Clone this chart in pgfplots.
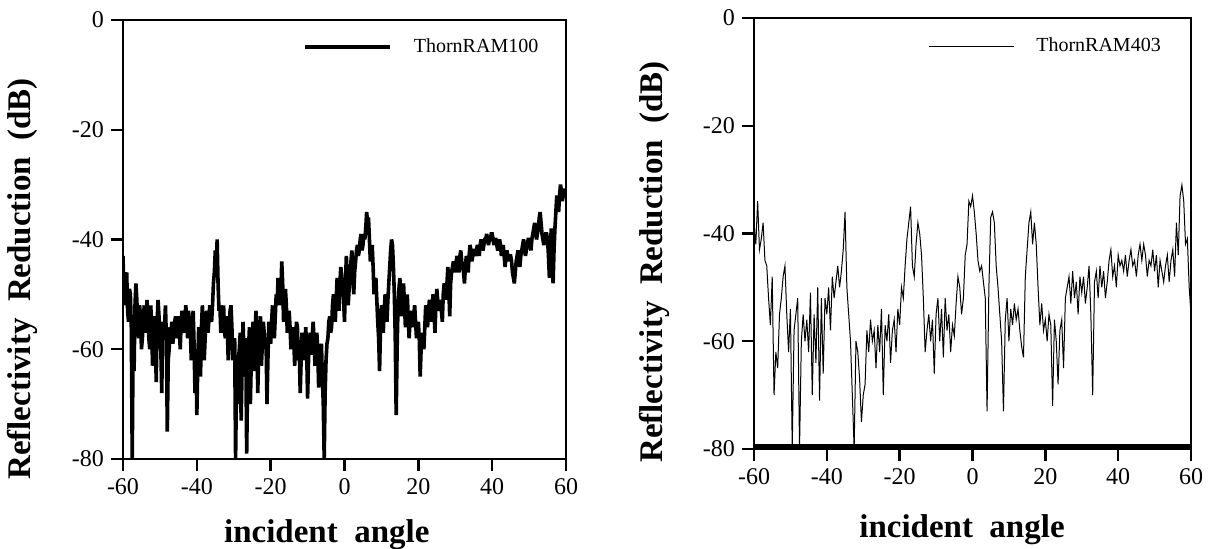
\documentclass[border=0pt]{standalone}
\usepackage{fontspec}
\setmainfont{Liberation Serif}
\usepackage{pgfplots}
\pgfplotsset{compat=1.18}
\pgfplotsset{
  refl/.style={
    scale only axis,
    xmin=-60, xmax=60, ymin=-80, ymax=0,
    xtick={-60,-40,-20,0,20,40,60},
    ytick={-80,-60,-40,-20,0},
    xtick pos=bottom, ytick pos=left,
    tick align=outside,
    major tick length=6pt,
    minor tick num=0,
    axis line style={line width=1.2pt},
    every tick/.style={line width=1.2pt,black},
    /pgf/number format/assume math mode=true,
    ticklabel style={font=\fontsize{12}{14}\selectfont},
    xlabel={\textbf{incident\ \ angle}},
    ylabel={\textbf{Reflectivity\ \ Reduction\ \ (dB)}},
    label style={font=\fontsize{16.5}{19}\selectfont},
    legend style={draw=none, fill=none, inner sep=0pt, font=\fontsize{10}{12}\selectfont, column sep=9pt},
    legend image code/.code={\draw[##1] (0pt,0pt) -- (42.5pt,0pt);},
  }
}
\begin{document}
\begin{tikzpicture}
\path[use as bounding box] (0,0) rectangle (605.5pt,274.5pt);
\begin{axis}[refl,
  at={(61.5pt,45pt)}, anchor=south west,
  width=221.5pt, height=219.5pt,
  xlabel style={at={(axis description cs:0.46,-0.173)}, anchor=center},
  ylabel style={at={(axis description cs:-0.228,0.41)}, anchor=center},
  legend style={at={(axis description cs:0.406,0.938)}, anchor=west},
]
\addplot[black, line width=1.8pt, line join=miter, miter limit=3] coordinates {
(-60,-43) (-59.75,-50) (-59.5,-52) (-59.25,-47) (-59,-46) (-58.75,-53) (-58.5,-55) (-58.25,-49) (-58,-50) (-57.75,-56)
(-57.5,-80) (-57.25,-58) (-57,-64) (-56.75,-52) (-56.5,-48) (-56.25,-51) (-56,-56) (-55.75,-58) (-55.5,-52) (-55.25,-54)
(-55,-60) (-54.75,-58) (-54.5,-55) (-54.25,-52) (-54,-57) (-53.75,-55) (-53.5,-51) (-53.25,-54) (-53,-58) (-52.75,-60)
(-52.5,-52) (-52.25,-55) (-52,-63) (-51.75,-58) (-51.5,-54) (-51.25,-57) (-51,-66) (-50.75,-55) (-50.5,-51) (-50.25,-54)
(-50,-57) (-49.75,-60) (-49.5,-68) (-49.25,-55) (-49,-58) (-48.75,-56) (-48.5,-52) (-48.25,-58) (-48,-75) (-47.75,-62)
(-47.5,-60) (-47.25,-56) (-47,-57) (-46.75,-55) (-46.5,-59) (-46.25,-57) (-46,-55) (-45.75,-54) (-45.5,-58) (-45.25,-57)
(-45,-54) (-44.75,-56) (-44.5,-60) (-44.25,-55) (-44,-53) (-43.75,-56) (-43.5,-57) (-43.25,-55) (-43,-52) (-42.75,-54)
(-42.5,-58) (-42.25,-53) (-42,-55) (-41.75,-57) (-41.5,-62) (-41.25,-56) (-41,-53) (-40.75,-59) (-40.5,-68) (-40.25,-60)
(-40,-72) (-39.75,-63) (-39.5,-56) (-39.25,-60) (-39,-65) (-38.75,-56) (-38.5,-52) (-38.25,-55) (-38,-62) (-37.75,-58)
(-37.5,-54) (-37.25,-53) (-37,-57) (-36.75,-55) (-36.5,-52) (-36.25,-54) (-36,-55) (-35.75,-52) (-35.5,-48) (-35.25,-46)
(-35,-42) (-34.75,-45) (-34.5,-40) (-34.25,-48) (-34,-53) (-33.75,-52) (-33.5,-57) (-33.25,-53) (-33,-55) (-32.75,-52)
(-32.5,-57) (-32.25,-58) (-32,-54) (-31.75,-56) (-31.5,-62) (-31.25,-58) (-31,-53) (-30.75,-52) (-30.5,-56) (-30.25,-62)
(-30,-60) (-29.75,-58) (-29.5,-80) (-29.25,-66) (-29,-70) (-28.75,-62) (-28.5,-60) (-28.25,-57) (-28,-73) (-27.75,-64)
(-27.5,-55) (-27.25,-60) (-27,-65) (-26.75,-58) (-26.5,-79) (-26.25,-66) (-26,-60) (-25.75,-56) (-25.5,-70) (-25.25,-62)
(-25,-57) (-24.75,-55) (-24.5,-64) (-24.25,-58) (-24,-53) (-23.75,-56) (-23.5,-68) (-23.25,-61) (-23,-57) (-22.75,-54)
(-22.5,-63) (-22.25,-59) (-22,-55) (-21.75,-57) (-21.5,-60) (-21.25,-58) (-21,-70) (-20.75,-62) (-20.5,-55) (-20.25,-56)
(-20,-59) (-19.75,-55) (-19.5,-52) (-19.25,-56) (-19,-58) (-18.75,-54) (-18.5,-50) (-18.25,-52) (-18,-47) (-17.75,-49)
(-17.5,-52) (-17.25,-50) (-17,-44) (-16.75,-48) (-16.5,-55) (-16.25,-52) (-16,-49) (-15.75,-52) (-15.5,-57) (-15.25,-55)
(-15,-53) (-14.75,-56) (-14.5,-60) (-14.25,-57) (-14,-56) (-13.75,-58) (-13.5,-63) (-13.25,-58) (-13,-55) (-12.75,-56)
(-12.5,-62) (-12.25,-60) (-12,-68) (-11.75,-62) (-11.5,-57) (-11.25,-58) (-11,-62) (-10.75,-60) (-10.5,-56) (-10.25,-60)
(-10,-69) (-9.75,-62) (-9.5,-58) (-9.25,-57) (-9,-61) (-8.75,-58) (-8.5,-55) (-8.25,-58) (-8,-63) (-7.75,-60)
(-7.5,-57) (-7.25,-60) (-7,-67) (-6.75,-62) (-6.5,-60) (-6.25,-59) (-6,-65) (-5.75,-70) (-5.5,-80) (-5.25,-68)
(-5,-62) (-4.75,-59) (-4.5,-58) (-4.25,-55) (-4,-54) (-3.75,-57) (-3.5,-56) (-3.25,-52) (-3,-50) (-2.75,-52)
(-2.5,-55) (-2.25,-51) (-2,-47) (-1.75,-50) (-1.5,-53) (-1.25,-48) (-1,-45) (-0.75,-47) (-0.5,-49) (-0.25,-51)
(0,-55) (0.25,-48) (0.5,-43) (0.75,-47) (1,-52) (1.25,-49) (1.5,-47) (1.75,-44) (2,-42) (2.25,-46)
(2.5,-50) (2.75,-46) (3,-44) (3.25,-42) (3.5,-41) (3.75,-43) (4,-42) (4.25,-40) (4.5,-39) (4.75,-42)
(5,-41) (5.25,-39) (5.5,-40) (5.75,-38) (6,-35) (6.25,-37) (6.5,-36) (6.75,-40) (7,-44) (7.25,-43)
(7.5,-41) (7.75,-45) (8,-50) (8.25,-48) (8.5,-47) (8.75,-51) (9,-55) (9.25,-58) (9.5,-64) (9.75,-56)
(10,-52) (10.25,-54) (10.5,-57) (10.75,-53) (11,-50) (11.25,-52) (11.5,-55) (11.75,-51) (12,-48) (12.25,-45)
(12.5,-42) (12.75,-40) (13,-41) (13.25,-45) (13.5,-50) (13.75,-58) (14,-72) (14.25,-60) (14.5,-52) (14.75,-49)
(15,-47) (15.25,-51) (15.5,-54) (15.75,-50) (16,-48) (16.25,-52) (16.5,-56) (16.75,-53) (17,-50) (17.25,-54)
(17.5,-58) (17.75,-55) (18,-53) (18.25,-54) (18.5,-56) (18.75,-54) (19,-52) (19.25,-55) (19.5,-58) (19.75,-56)
(20,-55) (20.25,-58) (20.5,-65) (20.75,-60) (21,-57) (21.25,-58) (21.5,-60) (21.75,-56) (22,-52) (22.25,-54)
(22.5,-56) (22.75,-53) (23,-51) (23.25,-53) (23.5,-55) (23.75,-52) (24,-50) (24.25,-53) (24.5,-57) (24.75,-52)
(25,-49) (25.25,-51) (25.5,-53) (25.75,-52) (26,-51) (26.25,-53) (26.5,-55) (26.75,-50) (27,-48) (27.25,-49)
(27.5,-51) (27.75,-48) (28,-45) (28.25,-49) (28.5,-54) (28.75,-48) (29,-46) (29.25,-45) (29.5,-44) (29.75,-45)
(30,-46) (30.25,-44) (30.5,-43) (30.75,-45) (31,-46) (31.25,-43) (31.5,-42) (31.75,-44) (32,-45) (32.25,-46)
(32.5,-48) (32.75,-45) (33,-43) (33.25,-44) (33.5,-46) (33.75,-43) (34,-41) (34.25,-42) (34.5,-44) (34.75,-43)
(35,-42) (35.25,-42) (35.5,-43) (35.75,-42) (36,-41) (36.25,-42) (36.5,-43) (36.75,-41) (37,-40) (37.25,-41)
(37.5,-42) (37.75,-41) (38,-40) (38.25,-40) (38.5,-39) (38.75,-40) (39,-41) (39.25,-40) (39.5,-40) (39.75,-39)
(40,-39) (40.25,-40) (40.5,-41) (40.75,-40) (41,-40) (41.25,-41) (41.5,-42) (41.75,-41) (42,-40) (42.25,-41)
(42.5,-43) (42.75,-42) (43,-41) (43.25,-43) (43.5,-45) (43.75,-43) (44,-42) (44.25,-43) (44.5,-44) (44.75,-43)
(45,-43) (45.25,-44) (45.5,-46) (45.75,-47) (46,-48) (46.25,-46) (46.5,-44) (46.75,-43) (47,-42) (47.25,-43)
(47.5,-45) (47.75,-43) (48,-42) (48.25,-41) (48.5,-40) (48.75,-41) (49,-43) (49.25,-42) (49.5,-41) (49.75,-40)
(50,-40) (50.25,-41) (50.5,-42) (50.75,-40) (51,-39) (51.25,-38) (51.5,-37) (51.75,-38) (52,-40) (52.25,-39)
(52.5,-38) (52.75,-36) (53,-35) (53.25,-37) (53.5,-39) (53.75,-40) (54,-41) (54.25,-40) (54.5,-39) (54.75,-39)
(55,-40) (55.25,-43) (55.5,-47) (55.75,-42) (56,-38) (56.25,-43) (56.5,-48) (56.75,-42) (57,-38) (57.25,-35)
(57.5,-32) (57.75,-33) (58,-35) (58.25,-32) (58.5,-30) (58.75,-31) (59,-33) (59.25,-32) (59.5,-31) (59.75,-31)
(60,-32)
};
\addlegendentry{ThornRAM100}
\end{axis}

\begin{axis}[refl,
  at={(377pt,50pt)}, anchor=south west,
  width=218.5pt, height=215.5pt,
  xlabel style={at={(axis description cs:0.476,-0.188)}, anchor=center},
  ylabel style={at={(axis description cs:-0.227,0.434)}, anchor=center},
  legend style={at={(axis description cs:0.398,0.935)}, anchor=west},
]
\addplot[black, line width=0.5pt] coordinates {
(-60,-38) (-59.5,-42) (-59,-34) (-58.5,-43) (-58,-41) (-57.5,-38) (-57,-45) (-56.5,-46) (-56,-52) (-55.5,-57)
(-55,-48) (-54.5,-70) (-54,-62) (-53.5,-65) (-53,-55) (-52.5,-52) (-52,-48) (-51.5,-46) (-51,-55) (-50.5,-62)
(-50,-54) (-49.5,-80) (-49,-58) (-48.5,-55) (-48,-52) (-47.5,-80) (-47,-60) (-46.5,-55) (-46,-60) (-45.5,-56)
(-45,-62) (-44.5,-51) (-44,-70) (-43.5,-55) (-43,-64) (-42.5,-50) (-42,-71) (-41.5,-52) (-41,-66) (-40.5,-52)
(-40,-55) (-39.5,-50) (-39,-58) (-38.5,-48) (-38,-52) (-37.5,-49) (-37,-46) (-36.5,-50) (-36,-47) (-35.5,-43)
(-35,-36) (-34.5,-50) (-34,-55) (-33.5,-60) (-33,-70) (-32.5,-80) (-32,-60) (-31.5,-62) (-31,-67) (-30.5,-75)
(-30,-70) (-29.5,-68) (-29,-58) (-28.5,-62) (-28,-56) (-27.5,-60) (-27,-58) (-26.5,-65) (-26,-57) (-25.5,-62)
(-25,-54) (-24.5,-70) (-24,-57) (-23.5,-60) (-23,-55) (-22.5,-64) (-22,-58) (-21.5,-56) (-21,-62) (-20.5,-54)
(-20,-57) (-19.5,-50) (-19,-52) (-18.5,-46) (-18,-41) (-17.5,-38) (-17,-35) (-16.5,-46) (-16,-48) (-15.5,-42)
(-15,-38) (-14.5,-40) (-14,-44) (-13.5,-52) (-13,-62) (-12.5,-58) (-12,-55) (-11.5,-60) (-11,-56) (-10.5,-66)
(-10,-55) (-9.5,-52) (-9,-60) (-8.5,-54) (-8,-63) (-7.5,-52) (-7,-58) (-6.5,-55) (-6,-62) (-5.5,-57)
(-5,-59) (-4.5,-53) (-4,-48) (-3.5,-50) (-3,-55) (-2.5,-52) (-2,-44) (-1.5,-42) (-1,-34) (-0.5,-35)
(0,-33) (0.5,-36) (1,-40) (1.5,-45) (2,-47) (2.5,-46) (3,-49) (3.5,-52) (4,-73) (4.5,-50)
(5,-37) (5.5,-36) (6,-38) (6.5,-46) (7,-50) (7.5,-55) (8,-60) (8.5,-73) (9,-56) (9.5,-52)
(10,-60) (10.5,-54) (11,-57) (11.5,-53) (12,-56) (12.5,-54) (13,-58) (13.5,-61) (14,-63) (14.5,-48)
(15,-43) (15.5,-38) (16,-36) (16.5,-42) (17,-38) (17.5,-42) (18,-50) (18.5,-57) (19,-53) (19.5,-58)
(20,-56) (20.5,-60) (21,-55) (21.5,-57) (22,-72) (22.5,-56) (23,-60) (23.5,-68) (24,-58) (24.5,-56)
(25,-65) (25.5,-52) (26,-50) (26.5,-48) (27,-53) (27.5,-47) (28,-52) (28.5,-49) (29,-55) (29.5,-48)
(30,-51) (30.5,-48) (31,-53) (31.5,-50) (32,-46) (32.5,-55) (33,-70) (33.5,-49) (34,-47) (34.5,-52)
(35,-46) (35.5,-50) (36,-47) (36.5,-52) (37,-49) (37.5,-45) (38,-43) (38.5,-48) (39,-46) (39.5,-50)
(40,-44) (40.5,-46) (41,-45) (41.5,-47) (42,-44) (42.5,-48) (43,-45) (43.5,-43) (44,-46) (44.5,-45)
(45,-48) (45.5,-44) (46,-42) (46.5,-45) (47,-42) (47.5,-44) (48,-48) (48.5,-45) (49,-46) (49.5,-43)
(50,-47) (50.5,-44) (51,-50) (51.5,-45) (52,-47) (52.5,-49) (53,-46) (53.5,-44) (54,-49) (54.5,-45)
(55,-43) (55.5,-48) (56,-38) (56.5,-44) (57,-33) (57.5,-31) (58,-34) (58.5,-42) (59,-41) (59.5,-50)
(60,-55)
};
\addlegendentry{ThornRAM403}
\draw[line width=2.5pt] (rel axis cs:0,0.006) -- (rel axis cs:1,0.006);
\end{axis}
\end{tikzpicture}
\end{document}
